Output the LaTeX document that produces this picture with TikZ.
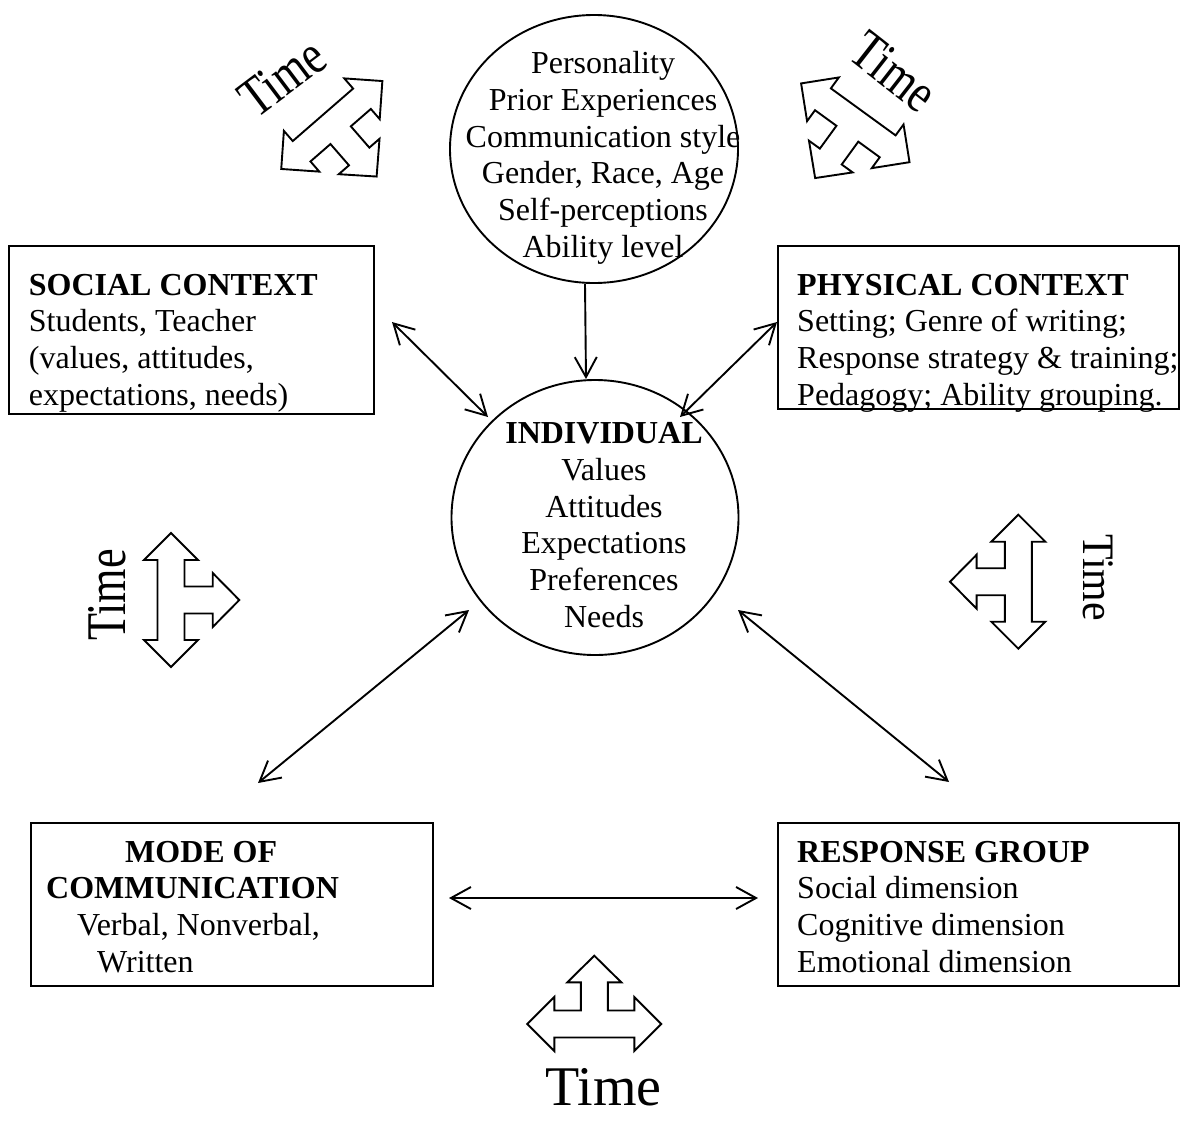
\documentclass[tikz,border=0pt]{standalone}
\usepackage{fontspec}
\setmainfont{Liberation Serif}
\usetikzlibrary{arrows.meta,shapes.geometric}
\begin{document}
\begin{tikzpicture}[x=1pt,y=1pt,
  lw/.style={line width=1.9pt},
  box/.style={draw,lw,rectangle,inner sep=0pt,anchor=north west},
  ell/.style={draw,lw,ellipse,inner sep=0pt},
  txt/.style={inner sep=0pt,font=\fontsize{32}{36.8}\selectfont},
  timetxt/.style={inner sep=0pt,font=\fontsize{56}{60}\selectfont},
  barb/.tip={Straight Barb[length=20pt,width=22pt]},
  con/.style={lw,barb-barb},
  tarrow/.pic={\draw[lw,line join=miter,fill=white] (-67,0) -- (-40,27) -- (-40,13.5) -- (-13.5,13.5) -- (-13.5,41.7) -- (-27,41.7) -- (0,68.3) -- (27,41.7) -- (13.5,41.7) -- (13.5,13.5) -- (40,13.5) -- (40,27) -- (67,0) -- (40,-27) -- (40,-13.5) -- (-40,-13.5) -- (-40,-27) -- cycle;}
]
\useasboundingbox (0,0) rectangle (1185,-1120);

% ellipses
\node[ell,minimum width=288pt,minimum height=268pt] (topc) at (594,-149) {};
\node[ell,minimum width=287pt,minimum height=275pt] (ind) at (595,-517.5) {};

\node[txt,anchor=north,align=center] (topt) at (603,-47.5)
  {\strut Personality\\Prior Experiences\\Communication style\\Gender, Race, Age\\Self-perceptions\\Ability level};
\node[txt,anchor=north,align=center] (indt) at (604,-417.5)
  {\strut\textbf{INDIVIDUAL}\\Values\\Attitudes\\Expectations\\Preferences\\Needs};

% boxes
\node[box,minimum width=365pt,minimum height=168pt] (soc) at (8,-245) {};
\node[box,minimum width=401pt,minimum height=163pt] (phys) at (777,-245) {};
\node[box,minimum width=402pt,minimum height=163pt] (mode) at (30,-822) {};
\node[box,minimum width=401pt,minimum height=163pt] (resp) at (777,-822) {};

\node[txt,anchor=north west,align=left] (soct) at (28.7,-269.2)
  {\strut\textbf{SOCIAL CONTEXT}\\Students, Teacher\\(values, attitudes,\\expectations, needs)};
\node[txt,anchor=north west,align=left] (physt) at (797,-269.2)
  {\strut\textbf{PHYSICAL CONTEXT}\\Setting; Genre of writing;\\Response strategy \& training;\\Pedagogy; Ability grouping.};
\node[txt,anchor=north west,align=left] (modet) at (46,-836.2)
  {\strut\hspace*{79pt}\textbf{MODE OF}\\\textbf{COMMUNICATION}\\\hspace*{31pt}Verbal, Nonverbal,\\\hspace*{51pt}Written};
\node[txt,anchor=north west,align=left] (respt) at (797,-836.2)
  {\strut\textbf{RESPONSE GROUP}\\Social dimension\\Cognitive dimension\\Emotional dimension};

% connector ends
\coordinate (s1) at (392,-322);
\coordinate (s2) at (488,-417);
\coordinate (p1) at (777,-322);
\coordinate (p2) at (680,-417);
\coordinate (m1) at (258,-783);
\coordinate (m2) at (469,-610);
\coordinate (r1) at (949,-782);
\coordinate (r2) at (738,-610);
\coordinate (h1) at (449,-898);
\coordinate (h2) at (758,-898);

\draw[lw,-barb] ([xshift=-9pt]topc.south) -- ([xshift=-9pt]ind.north);
\draw[con] (s1) -- (s2);
\draw[con] (p1) -- (p2);
\draw[con] (m1) -- (m2);
\draw[con] (r1) -- (r2);
\draw[con] (h1) -- (h2);

% time arrows
\pic[rotate=0] (ta1) at (594.3,-1024) {tarrow};
\pic[rotate=-90] (ta2) at (171,-600) {tarrow};
\pic[rotate=90] (ta3) at (1018.3,-581.7) {tarrow};
\pic[rotate=-139] (ta4) at (331.8,-125) {tarrow};
\pic[rotate=144] (ta5) at (855.3,-122.8) {tarrow};

% time labels
\node[timetxt,anchor=base] (tb) at (603.3,-1105) {Time};
\node[timetxt,anchor=base,rotate=90] (tlft) at (125,-595) {\scalebox{0.79}[1]{Time}};
\node[inner sep=0pt,font=\fontsize{45}{50}\selectfont,anchor=base,rotate=-90] (trgt) at (1083.3,-577.5) {\scalebox{0.93}[1]{Time}};
\node[timetxt,anchor=base,rotate=37] (ttl) at (293,-92) {\scalebox{0.79}[1]{Time}};
\node[timetxt,anchor=base,rotate=-38] (ttr) at (883,-86) {\scalebox{0.79}[1]{Time}};
\end{tikzpicture}
\end{document}
